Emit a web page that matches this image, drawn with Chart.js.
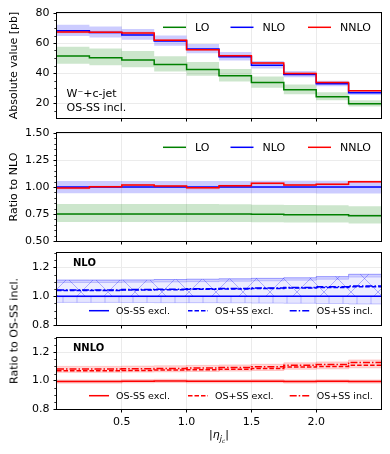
<!DOCTYPE html>
<html>
<head>
<meta charset="utf-8">
<script src="https://cdn.jsdelivr.net/npm/chart.js@4.4.1/dist/chart.umd.min.js"></script>
<style>
  html, body { margin: 0; padding: 0; background: #fff; }
  #fig { position: relative; width: 390px; height: 454px; overflow: hidden; font-family: "DejaVu Sans", sans-serif; color: #000; }
  #fig canvas { position: absolute; left: 0; }
  .ylab { position: absolute; font-size: 11px; white-space: nowrap; transform: translate(-50%, -50%) rotate(-90deg); }
  .xlab { position: absolute; font-size: 11px; white-space: nowrap; transform: translate(-50%, -50%); }
  .xlab sub { font-size: 0.72em; }
</style>
</head>
<body>
<div id="fig">
  <canvas id="absChart" width="390" height="135" style="top:0px"></canvas>
  <canvas id="ratioChart" width="390" height="135" style="top:118px"></canvas>
  <canvas id="nloChart" width="390" height="100" style="top:238px"></canvas>
  <canvas id="nnloChart" width="390" height="131" style="top:323px"></canvas>
  <div class="ylab" style="left:14px;top:331px">Ratio to OS-SS incl.</div>
  <div class="xlab" style="left:219px;top:436px">|<i>η</i><sub><i>j</i><sub><i>c</i></sub></sub>|</div>
</div>
<script>
// bins in |eta_jc|
const binEdges = [0, 0.25, 0.5, 0.75, 1.0, 1.25, 1.5, 1.75, 2.0, 2.25, 2.5];
const xTicks = [0.5, 1.0, 1.5, 2.0];

// absolute values [pb]
const loAbs = [51.3, 50.2, 48.7, 45.6, 42.3, 38.1, 33.6, 28.8, 24.2, 19.5];
const loAbsHi = [57.5, 56.3, 54.6, 51.1, 47.4, 42.7, 37.7, 32.3, 27.1, 21.9];
const loAbsLo = [46.2, 45.2, 43.8, 41.0, 38.1, 34.3, 30.2, 25.9, 21.8, 17.6];
const nloAbs = [68.1, 67.0, 65.4, 61.3, 56.0, 50.9, 45.2, 39.0, 32.8, 26.8];
const nloAbsHi = [72.2, 71.0, 69.3, 65.0, 59.4, 54.0, 48.0, 41.4, 34.9, 28.5];
const nloAbsLo = [64.6, 63.6, 62.1, 58.2, 53.2, 48.4, 43.0, 37.1, 31.1, 25.4];
const nnloAbs = [67.4, 67.2, 66.6, 61.9, 55.5, 51.5, 46.7, 39.7, 33.6, 28.1];
const nnloAbsHi = [68.4, 68.1, 67.5, 62.7, 56.3, 52.2, 47.4, 40.3, 34.1, 28.6];
const nnloAbsLo = [66.5, 66.3, 65.7, 61.1, 54.8, 50.8, 46.0, 39.1, 33.1, 27.6];
const absTicks = [20, 40, 60, 80];
const absMinor = [15, 25, 30, 35, 45, 50, 55, 65, 70, 75];

// ratio to NLO
const loRatio = [0.75, 0.75, 0.75, 0.75, 0.75, 0.75, 0.747, 0.743, 0.742, 0.733];
const loRatioHi = [0.842, 0.842, 0.842, 0.842, 0.842, 0.840, 0.836, 0.833, 0.832, 0.822];
const loRatioLo = [0.677, 0.677, 0.677, 0.677, 0.677, 0.676, 0.673, 0.672, 0.671, 0.663];
const nloRatio = [1.0, 1.0, 1.0, 1.0, 1.0, 1.0, 1.0, 1.0, 1.0, 1.0];
const nloRatioHi = [1.056, 1.056, 1.056, 1.056, 1.056, 1.056, 1.057, 1.057, 1.058, 1.058];
const nloRatioLo = [0.942, 0.942, 0.942, 0.942, 0.942, 0.942, 0.941, 0.941, 0.940, 0.940];
const nnloRatio = [0.991, 1.003, 1.019, 1.009, 0.992, 1.012, 1.034, 1.019, 1.025, 1.049];
const nnloRatioHi = [0.999, 1.011, 1.027, 1.017, 1.000, 1.020, 1.042, 1.027, 1.033, 1.057];
const nnloRatioLo = [0.979, 0.991, 1.007, 0.997, 0.980, 1.000, 1.022, 1.007, 1.013, 1.037];
const ratioTicks = [0.5, 0.75, 1.0, 1.25, 1.5];
const ratioMinor = [0.55, 0.6, 0.65, 0.7, 0.8, 0.85, 0.9, 0.95, 1.05, 1.1, 1.15, 1.2, 1.3, 1.35, 1.4, 1.45];

// NLO, ratio to OS-SS incl.
const nloMinusExcl = [1.0, 1.0, 0.999, 0.999, 1.0, 0.999, 0.999, 1.0, 0.999, 0.999];
const nloMinusExclLo = [0.957, 0.957, 0.956, 0.955, 0.955, 0.954, 0.952, 0.951, 0.949, 0.946];
const nloPlusExcl = [1.040, 1.040, 1.043, 1.045, 1.048, 1.050, 1.053, 1.057, 1.061, 1.066];
const nloPlusIncl = [1.043, 1.043, 1.046, 1.048, 1.051, 1.053, 1.057, 1.061, 1.065, 1.071];
const nloPlusHi = [1.112, 1.112, 1.113, 1.116, 1.118, 1.121, 1.124, 1.128, 1.136, 1.152];
const nloPlusMid = [1.095, 1.095, 1.097, 1.099, 1.101, 1.104, 1.107, 1.111, 1.118, 1.133];
const nloPlusLo = [0.996, 0.996, 0.997, 0.997, 0.998, 0.998, 0.998, 0.999, 0.999, 0.999];

// NNLO, ratio to OS-SS incl.
const nnloMinusExcl = [0.994, 0.994, 0.996, 0.998, 0.995, 0.995, 0.996, 0.994, 0.995, 0.994];
const nnloMinusExclHi = [1.005, 1.005, 1.007, 1.009, 1.006, 1.006, 1.007, 1.005, 1.006, 1.005];
const nnloMinusExclLo = [0.982, 0.982, 0.984, 0.986, 0.983, 0.983, 0.984, 0.982, 0.983, 0.982];
const nnloPlusExcl = [1.070, 1.070, 1.072, 1.074, 1.077, 1.080, 1.085, 1.095, 1.100, 1.108];
const nnloPlusIncl = [1.082, 1.082, 1.084, 1.086, 1.089, 1.092, 1.097, 1.108, 1.114, 1.128];
const nnloPlusHi = [1.100, 1.100, 1.102, 1.104, 1.107, 1.110, 1.115, 1.125, 1.131, 1.145];
const nnloPlusLo = [1.058, 1.058, 1.060, 1.062, 1.064, 1.067, 1.071, 1.080, 1.083, 1.090];
const osTicks = [0.8, 1.0, 1.2];
const osMinor = [0.85, 0.9, 0.95, 1.05, 1.1, 1.15, 1.25, 1.3];

Chart.defaults.font.family = '"DejaVu Sans", sans-serif';
Chart.defaults.color = '#000';

const GREEN = '#008000', BLUE = '#0000ff', RED = '#ff0000';
const gridColor = '#ebebeb';
const tickFont = { size: 11 };
const DASH = [4.5, 2];
const DASHDOT = [7, 2, 1.5, 2];

// point at each left bin edge, last value repeated at the right edge
function stepPoints(vals) {
    return binEdges.map((e, i) => ({ x: e, y: vals[Math.min(i, vals.length - 1)] }));
}

// later curves go on top (lower order is drawn later)
function lineSet(label, vals, color, dash, layer) {
    return {
        label: label,
        data: stepPoints(vals),
        stepped: 'before',
        borderColor: color,
        borderWidth: 1.5,
        borderDash: dash || [],
        pointRadius: 0,
        fill: false,
        order: -layer
    };
}

function bandSets(hi, lo, fillStyle, edge) {
    const base = { stepped: 'before', pointRadius: 0, borderWidth: 1, borderColor: edge || 'rgba(0,0,0,0)', order: 1 };
    return [
        Object.assign({ label: '', data: stepPoints(hi), fill: '+1', backgroundColor: fillStyle }, base),
        Object.assign({ label: '', data: stepPoints(lo), fill: false }, base)
    ];
}

function hatch(kind, color, bg, w, h) {
    const c = document.createElement('canvas');
    c.width = w;
    c.height = h;
    const g = c.getContext('2d');
    if (bg) {
        g.fillStyle = bg;
        g.fillRect(0, 0, w, h);
    }
    g.strokeStyle = color;
    g.lineWidth = 1;
    g.beginPath();
    if (kind === 'x') {
        g.moveTo(0, 0); g.lineTo(w, h);
        g.moveTo(w, 0); g.lineTo(0, h);
    } else {
        g.moveTo(w / 2, 0); g.lineTo(w / 2, h);
    }
    g.stroke();
    return g.createPattern(c, 'repeat');
}

// box around the plot area, like the matplotlib spines
const framePlugin = {
    id: 'frame',
    afterDatasetsDraw(chart) {
        const a = chart.chartArea;
        const ctx = chart.ctx;
        ctx.save();
        ctx.strokeStyle = '#000';
        ctx.lineWidth = 1;
        ctx.strokeRect(Math.round(a.left) - 0.5, Math.round(a.top) - 0.5,
            Math.round(a.right - a.left) + 1, Math.round(a.bottom - a.top) + 1);
        ctx.restore();
    }
};

const minorPlugin = {
    id: 'minorTicks',
    afterDraw(chart, args, opts) {
        const s = chart.scales.y;
        const ctx = chart.ctx;
        const x0 = Math.round(chart.chartArea.left) - 0.5;
        ctx.save();
        ctx.strokeStyle = '#000';
        ctx.lineWidth = 0.8;
        (opts.values || []).forEach(v => {
            const y = Math.round(s.getPixelForValue(v)) + 0.5;
            ctx.beginPath();
            ctx.moveTo(x0 - 2.2, y);
            ctx.lineTo(x0, y);
            ctx.stroke();
        });
        ctx.restore();
    }
};

// legend inside the axes, entries in one row
const legendPlugin = {
    id: 'rowLegend',
    afterDraw(chart, args, opts) {
        if (!opts.entries) return;
        const a = chart.chartArea;
        const ctx = chart.ctx;
        const y = a.top + opts.y;
        ctx.save();
        ctx.font = opts.size + 'px "DejaVu Sans", sans-serif';
        ctx.textBaseline = 'middle';
        ctx.fillStyle = '#000';
        opts.entries.forEach(en => {
            const ds = chart.data.datasets[en.ds];
            const x = a.left + en.x;
            ctx.strokeStyle = ds.borderColor;
            ctx.lineWidth = ds.borderWidth;
            ctx.setLineDash(ds.borderDash || []);
            ctx.beginPath();
            ctx.moveTo(x, y);
            ctx.lineTo(x + opts.handle, y);
            ctx.stroke();
            ctx.setLineDash([]);
            ctx.fillText(ds.label, x + opts.handle + opts.gap, y + 0.5);
        });
        ctx.restore();
    }
};

const notesPlugin = {
    id: 'notes',
    afterDraw(chart, args, opts) {
        if (!opts.items) return;
        const a = chart.chartArea;
        const ctx = chart.ctx;
        ctx.save();
        ctx.fillStyle = '#000';
        ctx.textBaseline = 'middle';
        opts.items.forEach(it => {
            ctx.font = (it.bold ? 'bold ' : '') + it.size + 'px "DejaVu Sans", sans-serif';
            ctx.fillText(it.text, a.left + it.x, a.top + it.y);
        });
        ctx.restore();
    }
};

function panelConfig(p) {
    return {
        type: 'line',
        data: { datasets: p.datasets },
        options: {
            responsive: false,
            animation: false,
            events: [],
            layout: { padding: { top: p.padTop, right: 9, left: 0, bottom: 0 } },
            scales: {
                x: {
                    type: 'linear',
                    min: 0,
                    max: 2.5,
                    afterBuildTicks: s => { s.ticks = xTicks.map(v => ({ value: v })); },
                    afterFit: s => { s.height = p.xHeight; },
                    grid: { color: gridColor, tickColor: '#000', tickLength: 3.5 },
                    border: { display: false },
                    ticks: {
                        display: p.showX,
                        font: tickFont,
                        padding: 3.5,
                        maxRotation: 0,
                        callback: v => v.toFixed(1)
                    }
                },
                y: {
                    min: p.yMin,
                    max: p.yMax,
                    afterBuildTicks: s => { s.ticks = p.yTicks.map(v => ({ value: v })); },
                    afterFit: s => { s.width = 57; },
                    grid: { color: gridColor, tickColor: '#000', tickLength: 3.5 },
                    border: { display: false },
                    ticks: {
                        font: tickFont,
                        padding: 4,
                        callback: v => v.toFixed(p.yDigits)
                    },
                    title: {
                        display: !!p.yTitle,
                        text: p.yTitle || '',
                        font: { size: 11 },
                        padding: { top: 7.4, bottom: 0 }
                    }
                }
            },
            plugins: {
                legend: { display: false },
                tooltip: { enabled: false },
                rowLegend: p.legend || {},
                notes: p.notes || {},
                minorTicks: { values: p.yMinor }
            }
        },
        plugins: [framePlugin, minorPlugin, legendPlugin, notesPlugin]
    };
}

const topLegend = { y: 14.3, size: 11, handle: 23, gap: 9, entries: [{ ds: 0, x: 106 }, { ds: 1, x: 173.5 }, { ds: 2, x: 251 }] };
const lowLegend = { y: 57.7, size: 9.5, handle: 20, gap: 7, entries: [{ ds: 0, x: 32 }, { ds: 1, x: 131 }, { ds: 2, x: 232.7 }] };

// absolute values
new Chart(document.getElementById('absChart'), panelConfig({
    padTop: 13, xHeight: 17, showX: false,
    yMin: 10, yMax: 80, yTicks: absTicks, yMinor: absMinor, yDigits: 0,
    yTitle: 'Absolute value [pb]',
    datasets: [
        lineSet('LO', loAbs, GREEN, null, 0),
        lineSet('NLO', nloAbs, BLUE, null, 1),
        lineSet('NNLO', nnloAbs, RED, null, 2),
        ...bandSets(nnloAbsHi, nnloAbsLo, 'rgba(255,0,0,0.2)'),
        ...bandSets(nloAbsHi, nloAbsLo, 'rgba(0,0,255,0.2)'),
        ...bandSets(loAbsHi, loAbsLo, 'rgba(0,128,0,0.2)')
    ],
    legend: topLegend,
    notes: { items: [
        { text: 'W⁻+c-jet', x: 9.5, y: 81.3, size: 11 },
        { text: 'OS-SS incl.', x: 9.5, y: 95.6, size: 11 }
    ] }
}));

// ratio to NLO
new Chart(document.getElementById('ratioChart'), panelConfig({
    padTop: 15, xHeight: 12, showX: false,
    yMin: 0.5, yMax: 1.5, yTicks: ratioTicks, yMinor: ratioMinor, yDigits: 2,
    yTitle: 'Ratio to NLO',
    datasets: [
        lineSet('LO', loRatio, GREEN, null, 0),
        lineSet('NLO', nloRatio, BLUE, null, 1),
        lineSet('NNLO', nnloRatio, RED, null, 2),
        ...bandSets(nnloRatioHi, nnloRatioLo, 'rgba(255,0,0,0.2)'),
        ...bandSets(nloRatioHi, nloRatioLo, 'rgba(0,0,255,0.2)'),
        ...bandSets(loRatioHi, loRatioLo, 'rgba(0,128,0,0.2)')
    ],
    legend: topLegend
}));

// NLO ratio to OS-SS incl.
new Chart(document.getElementById('nloChart'), panelConfig({
    padTop: 15, xHeight: 13, showX: false,
    yMin: 0.8, yMax: 1.3, yTicks: osTicks, yMinor: osMinor, yDigits: 1,
    datasets: [
        lineSet('OS-SS excl.', nloMinusExcl, BLUE, null, 0),
        lineSet('OS+SS excl.', nloPlusExcl, BLUE, DASH, 1),
        lineSet('OS+SS incl.', nloPlusIncl, BLUE, DASHDOT, 2),
        ...bandSets(nloPlusHi, nloPlusMid, 'rgba(0,0,255,0.12)', 'rgba(0,0,255,0.18)'),
        ...bandSets(nloPlusHi, nloPlusLo, hatch('x', 'rgba(0,0,255,0.28)', 'rgba(0,0,255,0.07)', 27, 27), 'rgba(0,0,255,0.2)'),
        ...bandSets(nloMinusExcl, nloMinusExclLo, hatch('|', 'rgba(0,0,255,0.24)', 'rgba(0,0,255,0.1)', 14, 14), 'rgba(0,0,255,0.2)')
    ],
    legend: lowLegend,
    notes: { items: [{ text: 'NLO', x: 16, y: 10.7, size: 10, bold: true }] }
}));

// NNLO ratio to OS-SS incl.
new Chart(document.getElementById('nnloChart'), panelConfig({
    padTop: 15, xHeight: 45, showX: true,
    yMin: 0.8, yMax: 1.3, yTicks: osTicks, yMinor: osMinor, yDigits: 1,
    datasets: [
        lineSet('OS-SS excl.', nnloMinusExcl, RED, null, 0),
        lineSet('OS+SS excl.', nnloPlusExcl, RED, DASH, 1),
        lineSet('OS+SS incl.', nnloPlusIncl, RED, DASHDOT, 2),
        ...bandSets(nnloPlusHi, nnloPlusLo, 'rgba(255,0,0,0.15)', 'rgba(255,0,0,0.18)'),
        ...bandSets(nnloMinusExclHi, nnloMinusExclLo, 'rgba(255,0,0,0.15)', 'rgba(255,0,0,0.15)')
    ],
    legend: lowLegend,
    notes: { items: [{ text: 'NNLO', x: 16, y: 10.7, size: 10, bold: true }] }
}));
</script>
</body>
</html>
